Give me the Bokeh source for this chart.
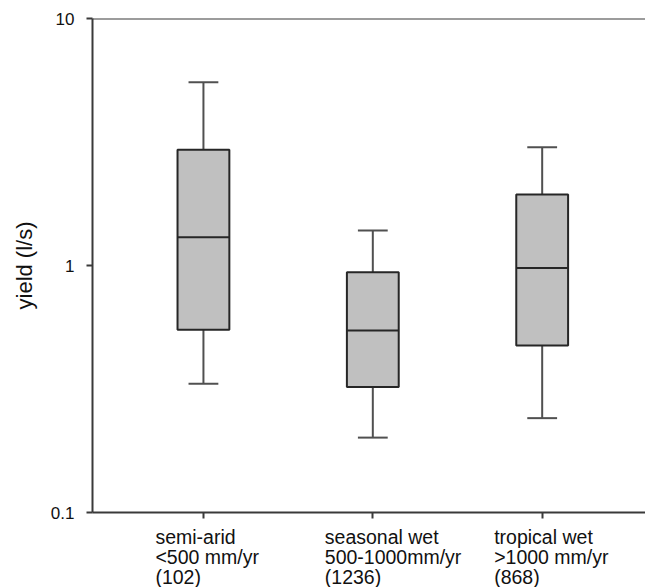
import numpy as np
from bokeh.plotting import figure
from bokeh.models import Range1d, FixedTicker, Span, ColumnDataSource
from bokeh.layouts import column
from bokeh.core.properties import value
from bokeh.embed import file_html
from bokeh.resources import INLINE

# ---- data ----
categories = ["semi-arid", "seasonal wet", "tropical wet"]
label_line1 = ["semi-arid", "seasonal wet", "tropical wet"]
label_line2 = ["<500 mm/yr", "500-1000mm/yr", ">1000 mm/yr"]
label_line3 = ["(102)", "(1236)", "(868)"]
whisker_low = [0.332, 0.201, 0.241]
q1 = [0.55, 0.322, 0.474]
median = [1.30, 0.545, 0.978]
q3 = [2.94, 0.939, 1.94]
whisker_high = [5.52, 1.386, 3.01]
y_ticks = [0.1, 1, 10]
y_tick_labels = ["0.1", "1", "10"]

x = np.arange(1, len(categories) + 1).astype(float)
box_w = 0.306
cap_w = 0.176

FONT = "Liberation Sans"
DARK = "#3a3a3a"
TXT = "#111111"

W = 645
MAIN_H = 524
LAB_H = 587 - MAIN_H

xr = Range1d(0.345, 3.61)

p = figure(width=W, height=MAIN_H, y_axis_type="log",
           x_range=xr, y_range=Range1d(0.1, 10),
           output_backend="svg", toolbar_location=None,
           min_border_left=92, min_border_right=0,
           min_border_top=18, min_border_bottom=12)
p.outline_line_color = None
p.grid.visible = False
p.background_fill_color = "white"
p.border_fill_color = "white"

src = ColumnDataSource(dict(
    x=x, lo=whisker_low, q1=q1, med=median, q3=q3, hi=whisker_high,
    x0=x - box_w / 2, x1=x + box_w / 2,
    c0=x - cap_w / 2, c1=x + cap_w / 2,
))

# whiskers
p.segment(x0="x", y0="q3", x1="x", y1="hi", source=src, line_color="#505050", line_width=2)
p.segment(x0="x", y0="lo", x1="x", y1="q1", source=src, line_color="#505050", line_width=2)
p.segment(x0="c0", y0="hi", x1="c1", y1="hi", source=src, line_color="#505050", line_width=2)
p.segment(x0="c0", y0="lo", x1="c1", y1="lo", source=src, line_color="#505050", line_width=2)
# boxes
p.vbar(x="x", width=box_w, bottom="q1", top="q3", source=src,
       fill_color="#c0c0c0", line_color="#262626", line_width=2)
p.segment(x0="x0", y0="med", x1="x1", y1="med", source=src, line_color="#262626", line_width=2)

# top line
p.add_layout(Span(location=y_ticks[-1], dimension="width", line_color=DARK, line_width=2))

# axes
for ax in (p.xaxis[0], p.yaxis[0]):
    ax.axis_line_color = DARK
    ax.axis_line_width = 2
    ax.major_tick_line_color = DARK
    ax.major_tick_line_width = 2
    ax.major_tick_out = 6
    ax.major_tick_in = 0
    ax.minor_tick_line_color = None
    ax.major_label_text_font = FONT
    ax.major_label_text_color = TXT

p.yaxis.ticker = FixedTicker(ticks=y_ticks)
p.yaxis.major_label_overrides = {t: l for t, l in zip(y_ticks, y_tick_labels)}
p.yaxis.major_label_text_font_size = "17px"
p.yaxis.major_label_standoff = 12
p.yaxis.axis_label = "yield (l/s)"
p.yaxis.axis_label_text_font = FONT
p.yaxis.axis_label_text_font_size = "22px"
p.yaxis.axis_label_text_font_style = "normal"
p.yaxis.axis_label_text_color = TXT
p.yaxis.axis_label_standoff = 11

p.xaxis.ticker = FixedTicker(ticks=list(x))
p.xaxis.major_label_overrides = {float(v): "" for v in x}
p.xaxis.major_label_text_font_size = "0px"
p.xaxis.major_label_standoff = 0

# ---- category labels (left-aligned, three lines) in a strip below ----
q = figure(width=W, height=LAB_H, x_range=xr, y_range=Range1d(0, LAB_H),
           output_backend="svg", toolbar_location=None,
           x_axis_location=None, y_axis_location=None,
           min_border_left=92, min_border_right=0,
           min_border_top=0, min_border_bottom=0)
q.grid.visible = False
q.outline_line_color = None
q.background_fill_color = "white"
q.border_fill_color = "white"

line_gap = 20.2
first_line = LAB_H - (536.5 - MAIN_H)
for i, lines in enumerate((label_line1, label_line2, label_line3)):
    ls = ColumnDataSource(dict(x=x, y=[first_line - i * line_gap] * len(x), t=lines))
    q.text(x="x", y="y", text="t", source=ls, x_offset=-48,
           text_align="left", text_baseline="middle",
           text_font=value(FONT), text_font_size="19.5px", text_color=TXT)

layout = column(p, q, spacing=0)
open("out.html", "w").write(file_html(layout, INLINE))
